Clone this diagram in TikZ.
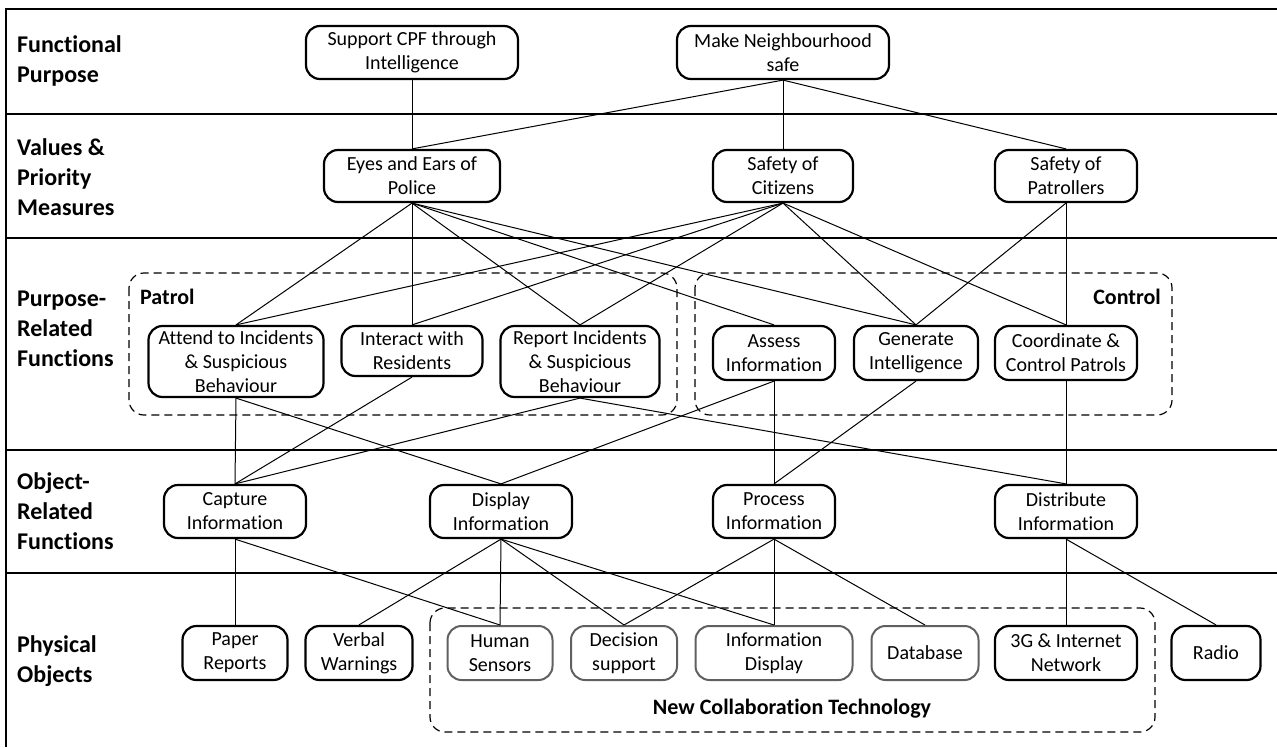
\documentclass[tikz,border=0pt]{standalone}
\usepackage{fontspec}
\setmainfont{Carlito}[Ligatures={NoCommon}]
\definecolor{boxgray}{HTML}{606060}
\newcommand{\nodefont}{\fontsize{20}{24}\selectfont}
\newcommand{\lblfont}{\fontsize{24}{30}\selectfont\bfseries}
\newcommand{\grpfont}{\fontsize{22}{26}\selectfont\bfseries}
\begin{document}
\begin{tikzpicture}[x=1pt,y=-1pt,
  box/.style={draw, line width=2.2pt, rounded corners=14pt, align=center, inner sep=0pt, font=\nodefont},
  graybox/.style={box, draw=boxgray, line width=2pt},
  conn/.style={line width=1pt},
  rowline/.style={line width=1.6pt},
  group/.style={dash pattern=on 8pt off 5pt, line width=1.2pt, rounded corners=15pt},
  rowlabel/.style={anchor=west, align=left, font=\lblfont, inner sep=0pt},
  grplabel/.style={font=\grpfont, inner sep=0pt}]
\useasboundingbox (0,0) rectangle (1277,747);
% frame and row lines
\draw[rowline] (6,747) -- (6,9) -- (1277,9);
\foreach \yy in {114,238,450,573} \draw[rowline] (6,\yy) -- (1277,\yy);
% row labels
\node[rowlabel] (l1) at (17,61) {Functional\\Purpose};
\node[rowlabel] (l2) at (17,177) {Values \&\\Priority\\Measures};
\node[rowlabel] (l3) at (17,329) {Purpose-\\Related\\Functions};
\node[rowlabel] (l4) at (17,511) {Object-\\Related\\Functions};
\node[rowlabel] (l5) at (17,661) {Physical\\Objects};
% groups
\draw[group] (129,273) rectangle (677,415);
\draw[group] (695,273) rectangle (1172,415);
\draw[group] (430,608) rectangle (1155,732);
\node[grplabel, anchor=west] (gpatrol) at (140,297) {Patrol};
\node[grplabel, anchor=east] (gcontrol) at (1161,297) {Control};
\node[grplabel] (gnct) at (792,709) {New Collaboration Technology};
% level 1
\node[box, minimum width=212pt, minimum height=53pt] (sup) at (412,52.5) {Support CPF through\\Intelligence};
\node[box, minimum width=212pt, minimum height=53pt] (mn) at (783,52.5) {Make Neighbourhood\\safe};
% level 2
\node[box, minimum width=176pt, minimum height=52pt] (eyes) at (412,176) {Eyes and Ears of\\Police};
\node[box, minimum width=140pt, minimum height=52pt] (cit) at (783,176) {Safety of\\Citizens};
\node[box, minimum width=142pt, minimum height=52pt] (pat) at (1066,176) {Safety of\\Patrollers};
% level 3
\node[box, minimum width=175pt, minimum height=71pt] (att) at (236,361.5) {Attend to Incidents\\\& Suspicious\\Behaviour};
\node[box, minimum width=141pt, minimum height=50pt] (int) at (412,351) {Interact with\\Residents};
\node[box, minimum width=159pt, minimum height=71pt] (rep) at (580,361.5) {Report Incidents\\\& Suspicious\\Behaviour};
\node[box, minimum width=122pt, minimum height=54pt] (ass) at (774,353) {Assess\\Information};
\node[box, minimum width=124pt, minimum height=54pt] (gen) at (916,353) {Generate\\Intelligence};
\node[box, minimum width=142pt, minimum height=54pt] (coo) at (1066,353) {Coordinate \&\\Control Patrols};
% level 4
\node[box, minimum width=142pt, minimum height=53pt] (cap) at (235,511.5) {Capture\\Information};
\node[box, minimum width=142pt, minimum height=53pt] (dis) at (501,511.5) {Display\\Information};
\node[box, minimum width=122pt, minimum height=53pt] (pro) at (774,511.5) {Process\\Information};
\node[box, minimum width=142pt, minimum height=53pt] (dst) at (1066,511.5) {Distribute\\Information};
% level 5
\node[box, minimum width=105pt, minimum height=54pt] (paper) at (235,653) {Paper\\Reports};
\node[box, minimum width=107pt, minimum height=54pt] (verbal) at (359,653) {Verbal\\Warnings};
\node[graybox, minimum width=105pt, minimum height=54pt] (human) at (500,653) {Human\\Sensors};
\node[graybox, minimum width=106pt, minimum height=54pt] (decis) at (624,653) {Decision\\support};
\node[graybox, minimum width=157pt, minimum height=54pt] (infod) at (774,653) {Information\\Display};
\node[graybox, minimum width=107pt, minimum height=54pt] (dbase) at (925,653) {Database};
\node[box, minimum width=142pt, minimum height=54pt] (net) at (1066,653) {3G \& Internet\\Network};
\node[box, minimum width=89pt, minimum height=54pt] (radio) at (1216,653) {Radio};
% connectors
\draw[conn] (sup.south) -- (eyes.north);
\foreach \t in {eyes,cit,pat} \draw[conn] (mn.south) -- (\t.north);
\foreach \t in {att,int,rep,ass,gen} \draw[conn] (eyes.south) -- (\t.north);
\foreach \t in {att,int,rep,gen,coo} \draw[conn] (cit.south) -- (\t.north);
\foreach \t in {gen,coo} \draw[conn] (pat.south) -- (\t.north);
\foreach \t in {cap,dis} \draw[conn] (att.south) -- (\t.north);
\draw[conn] (int.south) -- (cap.north);
\foreach \t in {cap,dst} \draw[conn] (rep.south) -- (\t.north);
\foreach \t in {dis,pro} \draw[conn] (ass.south) -- (\t.north);
\draw[conn] (gen.south) -- (pro.north);
\draw[conn] (coo.south) -- (dst.north);
\foreach \t in {paper,human} \draw[conn] (cap.south) -- (\t.north);
\foreach \t in {verbal,human,decis,infod} \draw[conn] (dis.south) -- (\t.north);
\foreach \t in {decis,infod,dbase} \draw[conn] (pro.south) -- (\t.north);
\foreach \t in {net,radio} \draw[conn] (dst.south) -- (\t.north);
\end{tikzpicture}
\end{document}
